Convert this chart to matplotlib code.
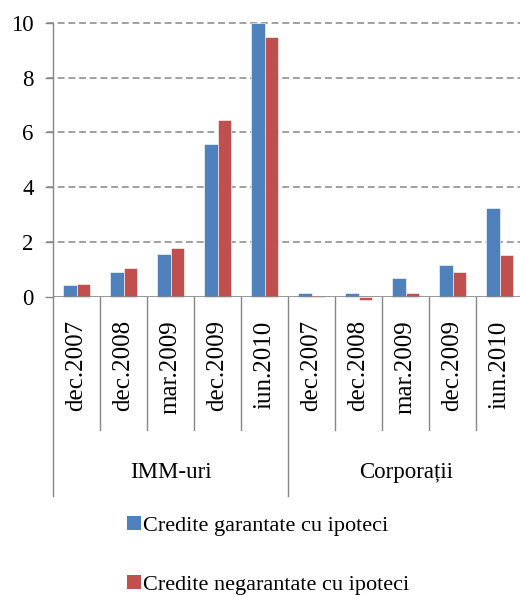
import numpy as np
import matplotlib
matplotlib.use("Agg")
import matplotlib.pyplot as plt
from matplotlib.patches import Patch

plt.rcParams["font.family"] = ["Liberation Serif", "DejaVu Serif"]

# categories: two segments, five reporting dates each
groups = ["IMM-uri", "Corporații"]
dates = ["dec.2007", "dec.2008", "mar.2009", "dec.2009", "iun.2010"]

series_names = ["Credite garantate cu ipoteci", "Credite negarantate cu ipoteci"]
garantate = [0.43, 0.90, 1.58, 5.57, 10.0, 0.15, 0.15, 0.71, 1.18, 3.24]
negarantate = [0.49, 1.05, 1.80, 6.47, 9.49, 0.02, -0.12, 0.15, 0.90, 1.52]

BLUE = "#4F81BD"
RED = "#C0504D"
GRID = "#868686"

fig = plt.figure(figsize=(5.2, 5.95), dpi=100)
ax = fig.add_axes([0.102, 0.5008, 0.904, 0.461])

n = len(groups) * len(dates)
x = np.arange(n)
w = 0.285
ax.bar(x - w / 2, garantate, w, color=BLUE, edgecolor="#ffffff", linewidth=0.4, clip_on=False, zorder=3)
ax.bar(x + w / 2, negarantate, w, color=RED, edgecolor="#ffffff", linewidth=0.4, clip_on=False, zorder=3)

ax.set_xlim(-0.5, n - 0.5)
ax.set_ylim(0, 10)
ax.set_yticks([0, 2, 4, 6, 8, 10])
ax.tick_params(axis="y", length=6, width=1, color=GRID, pad=8, labelsize=16.5)
ax.set_xticks([])

for s in ["top", "right", "bottom"]:
    ax.spines[s].set_visible(False)
ax.spines["left"].set_color(GRID)
ax.spines["left"].set_linewidth(1)

# dashed gridlines that start at the tick marks
for yv in [2, 4, 6, 8, 10]:
    ax.plot([-0.5 - 6 / 47, n - 0.5], [yv, yv], color=GRID, lw=1.1,
            dashes=(4.5, 2.5), clip_on=False, zorder=1)
ax.axhline(0, color=GRID, lw=1.2, zorder=4)

# multi-level category axis
xt = ax.get_xaxis_transform()
for b in np.arange(n + 1) - 0.5:
    bottom = -0.725 if (b + 0.5) % len(dates) == 0 else -0.485
    ax.plot([b, b], [0, bottom], color=GRID, lw=1, transform=xt, clip_on=False)

labels = dates * len(groups)
for xi, lab in zip(x, labels):
    ax.text(xi, -0.085, lab, rotation=90, ha="center", va="top",
            fontsize=18, transform=xt)

for gi, g in enumerate(groups):
    center = gi * len(dates) + (len(dates) - 1) / 2
    ax.text(center, -0.64, g, ha="center", va="center", fontsize=16.5, transform=xt)

handles = [Patch(facecolor=BLUE), Patch(facecolor=RED)]
fig.legend(handles, series_names, loc="upper left", bbox_to_anchor=(0.245, 0.133),
           frameon=False, fontsize=16, handlelength=0.6, handleheight=0.6,
           handletextpad=0.1, labelspacing=1.75, borderpad=0, borderaxespad=0)

fig.savefig("out.png", dpi=100)
